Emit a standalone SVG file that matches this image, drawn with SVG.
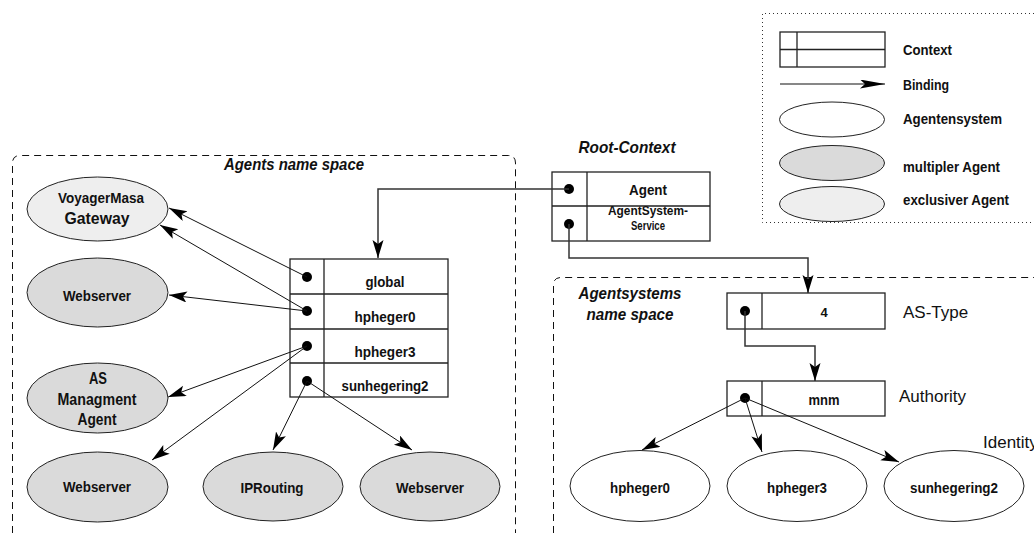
<svg xmlns="http://www.w3.org/2000/svg" width="1034" height="533" viewBox="0 0 1034 533">
  <style>
    text { font-family: "Liberation Sans", Arial, sans-serif; fill: #111; }
    .lbl { font-weight: bold; font-size: 15px; text-anchor: middle; }
    .sm { font-size: 12px; }
    .leg { font-weight: bold; font-size: 15px; }
    .title { font-weight: bold; font-style: italic; font-size: 17px; text-anchor: middle; }
    .side { font-size: 17px; }
    .ctx { fill: #fff; stroke: #222; stroke-width: 1.3; }
    .div { stroke: #222; stroke-width: 1.3; fill: none; }
    .dot { fill: #000; }
    .sys { fill: #fff; stroke: #222; stroke-width: 1; }
    .multi { fill: #dadada; stroke: #222; stroke-width: 1; }
    .excl { fill: #eeeeee; stroke: #222; stroke-width: 1; }
    .bind { fill: none; stroke: #111; stroke-width: 1; marker-end: url(#arrow); }
    .link { fill: none; stroke: #333; stroke-width: 1.5; marker-end: url(#arrow); }
    .dash { fill: none; stroke: #111; stroke-width: 1; stroke-dasharray: 7 5; }
    .dots { fill: none; stroke: #333; stroke-width: 1; stroke-dasharray: 1 3; }
  </style>
  <defs>
    <marker id="arrow" markerUnits="userSpaceOnUse" markerWidth="19" markerHeight="12" refX="18" refY="5.5" orient="auto">
      <path d="M0,0 L18,5.5 L0,11 L4,5.5 z" fill="#000"/>
    </marker>
    <marker id="arrow-long" markerUnits="userSpaceOnUse" markerWidth="26" markerHeight="10" refX="25" refY="4.5" orient="auto">
      <path d="M0,0 L25,4.5 L0,9 L5,4.5 z" fill="#000"/>
    </marker>
  </defs>

  <rect width="1034" height="533" fill="#fff"/>

  <!-- name space frames -->
  <g id="agents-space">
    <path class="dash" d="M12.5,533 V163 Q12.5,155.5 20,155.5 H508 Q515.5,155.5 515.5,163 V533"/>
    <text class="title" x="294" y="170" textLength="140" lengthAdjust="spacingAndGlyphs">Agents name space</text>
  </g>
  <g id="agentsystems-space">
    <path class="dash" d="M553.5,533 V285 Q553.5,277.5 561,277.5 H1034"/>
    <text class="title" x="630" y="299" textLength="103" lengthAdjust="spacingAndGlyphs">Agentsystems</text>
    <text class="title" x="630" y="320" textLength="87" lengthAdjust="spacingAndGlyphs">name space</text>
  </g>

  <!-- legend -->
  <g id="legend">
    <path class="dots" d="M1034,13.5 H762.5 V222.5 H1034"/>
    <rect class="ctx" x="780" y="32" width="105" height="35"/>
    <path class="div" d="M780,49.5 H885 M797,32 V67"/>
    <text class="leg" x="903" y="55" textLength="49" lengthAdjust="spacingAndGlyphs">Context</text>
    <path d="M780,84 H885" fill="none" stroke="#111" stroke-width="1.2" marker-end="url(#arrow-long)"/>
    <text class="leg" x="903" y="90" textLength="46" lengthAdjust="spacingAndGlyphs">Binding</text>
    <ellipse class="sys" cx="832" cy="119.5" rx="52.5" ry="17.5"/>
    <text class="leg" x="903" y="124" textLength="99" lengthAdjust="spacingAndGlyphs">Agentensystem</text>
    <ellipse class="multi" cx="832" cy="163" rx="52.5" ry="17.5"/>
    <text class="leg" x="903" y="172" textLength="97" lengthAdjust="spacingAndGlyphs">multipler Agent</text>
    <ellipse class="excl" cx="832" cy="204" rx="52.5" ry="17.5"/>
    <text class="leg" x="903" y="205" textLength="106" lengthAdjust="spacingAndGlyphs">exclusiver Agent</text>
  </g>

  <!-- root context -->
  <g id="root-context">
    <text class="title" x="627" y="153" textLength="97" lengthAdjust="spacingAndGlyphs">Root-Context</text>
    <rect class="ctx" x="552" y="172" width="158" height="69"/>
    <path class="div" d="M552,206 H710 M587,172 V241"/>
    <circle class="dot" cx="569" cy="189" r="5"/>
    <circle class="dot" cx="569" cy="224" r="5"/>
    <text class="lbl" x="648" y="195" textLength="38" lengthAdjust="spacingAndGlyphs">Agent</text>
    <text class="lbl sm" x="648" y="215" textLength="80" lengthAdjust="spacingAndGlyphs">AgentSystem-</text>
    <text class="lbl sm" x="648" y="230" textLength="34" lengthAdjust="spacingAndGlyphs">Service</text>
  </g>

  <!-- agents context -->
  <g id="agents-context">
    <rect class="ctx" x="290" y="259" width="158" height="138"/>
    <path class="div" d="M290,294 H448 M290,329 H448 M290,363 H448 M324,259 V397"/>
    <circle class="dot" cx="307" cy="277" r="5"/>
    <circle class="dot" cx="307" cy="311" r="5"/>
    <circle class="dot" cx="307" cy="346" r="5"/>
    <circle class="dot" cx="307" cy="381" r="5"/>
    <text class="lbl" x="385" y="287" textLength="39" lengthAdjust="spacingAndGlyphs">global</text>
    <text class="lbl" x="385" y="322" textLength="61" lengthAdjust="spacingAndGlyphs">hpheger0</text>
    <text class="lbl" x="385" y="357" textLength="61" lengthAdjust="spacingAndGlyphs">hpheger3</text>
    <text class="lbl" x="385" y="391" textLength="87" lengthAdjust="spacingAndGlyphs">sunhegering2</text>
  </g>

  <!-- agents -->
  <g id="voyager">
    <ellipse class="excl" cx="97.5" cy="209" rx="70.5" ry="32"/>
    <text class="lbl" x="101" y="203" textLength="86" lengthAdjust="spacingAndGlyphs">VoyagerMasa</text>
    <text class="lbl" x="97" y="224" style="font-size:17px" textLength="65" lengthAdjust="spacingAndGlyphs">Gateway</text>
  </g>
  <g id="webserver-1">
    <ellipse class="multi" cx="97.5" cy="292.5" rx="70.5" ry="34.5"/>
    <text class="lbl" x="97" y="301" textLength="68" lengthAdjust="spacingAndGlyphs">Webserver</text>
  </g>
  <g id="as-management">
    <ellipse class="multi" cx="97.5" cy="398" rx="70.5" ry="35"/>
    <text class="lbl" x="98" y="384" style="font-size:16px" textLength="18" lengthAdjust="spacingAndGlyphs">AS</text>
    <text class="lbl" x="97" y="405" style="font-size:16px" textLength="79" lengthAdjust="spacingAndGlyphs">Managment</text>
    <text class="lbl" x="97" y="425" style="font-size:16px" textLength="39" lengthAdjust="spacingAndGlyphs">Agent</text>
  </g>
  <g id="webserver-2">
    <ellipse class="multi" cx="97.5" cy="487" rx="70.5" ry="35"/>
    <text class="lbl" x="97" y="492" textLength="68" lengthAdjust="spacingAndGlyphs">Webserver</text>
  </g>
  <g id="iprouting">
    <ellipse class="multi" cx="273" cy="486.5" rx="70" ry="34.5"/>
    <text class="lbl" x="272" y="493" textLength="63" lengthAdjust="spacingAndGlyphs">IPRouting</text>
  </g>
  <g id="webserver-3">
    <ellipse class="multi" cx="430" cy="486.5" rx="70" ry="34.5"/>
    <text class="lbl" x="430" y="493" textLength="68" lengthAdjust="spacingAndGlyphs">Webserver</text>
  </g>

  <!-- agent system contexts -->
  <g id="as-type">
    <rect class="ctx" x="727" y="293" width="158" height="36"/>
    <path class="div" d="M762,293 V329"/>
    <circle class="dot" cx="745" cy="311" r="5"/>
    <text class="lbl" x="824" y="317" style="font-size:13px">4</text>
    <text class="side" x="903" y="318">AS-Type</text>
  </g>
  <g id="authority">
    <rect class="ctx" x="727" y="381" width="158" height="35"/>
    <path class="div" d="M762,381 V416"/>
    <circle class="dot" cx="745" cy="398" r="5"/>
    <text class="lbl" x="824" y="405" textLength="31" lengthAdjust="spacingAndGlyphs">mnm</text>
    <text class="side" x="899" y="402">Authority</text>
  </g>
  <text class="side" x="983" y="448">Identity</text>

  <!-- agent systems -->
  <g id="sys-hpheger0">
    <ellipse class="sys" cx="640" cy="486" rx="70" ry="35.5"/>
    <text class="lbl" x="640" y="493" textLength="60" lengthAdjust="spacingAndGlyphs">hpheger0</text>
  </g>
  <g id="sys-hpheger3">
    <ellipse class="sys" cx="797" cy="486" rx="70" ry="35.5"/>
    <text class="lbl" x="797" y="493" textLength="60" lengthAdjust="spacingAndGlyphs">hpheger3</text>
  </g>
  <g id="sys-sunhegering2">
    <ellipse class="sys" cx="954" cy="486" rx="70" ry="35.5"/>
    <text class="lbl" x="954" y="493" textLength="88" lengthAdjust="spacingAndGlyphs">sunhegering2</text>
  </g>

  <!-- bindings -->
  <g id="connectors">
    <path class="link" d="M569,189 H378 V258"/>
    <path class="link" d="M569,224 V258 H808 V293"/>
    <path class="bind" d="M307,277 L169,208"/>
    <path class="bind" d="M307,311 L160,225"/>
    <path class="bind" d="M307,311 L169,295"/>
    <path class="bind" d="M307,346 L168,397"/>
    <path class="bind" d="M307,346 L152,460"/>
    <path class="bind" d="M307,381 L273,450"/>
    <path class="bind" d="M307,381 L412,450"/>
    <path class="link" d="M745,311 V346 H815 V381"/>
    <path class="bind" d="M745,398 L642,450"/>
    <path class="bind" d="M745,398 L762,452"/>
    <path class="bind" d="M745,398 L899,462"/>
  </g>
</svg>
